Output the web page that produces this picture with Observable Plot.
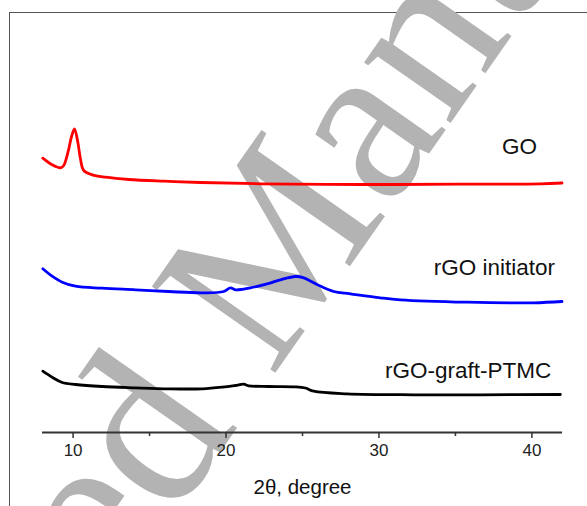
<!DOCTYPE html>
<html><head><meta charset="utf-8">
<script src="https://cdn.jsdelivr.net/npm/d3@7"></script>
<script src="https://cdn.jsdelivr.net/npm/@observablehq/plot@0.6"></script>
<style>body{margin:0;background:#fff;}</style>
</head><body><div id="chart"></div>
<script>
// ---- data (2θ in degrees, intensity in arbitrary offset units) ----
const seriesNames = ["GO", "rGO initiator", "rGO-graft-PTMC"];
const seriesColors = ["#ff0000", "#0000ff", "#000000"];

const goAngle = [8.02, 8.63, 9.18, 9.39, 9.55, 9.72, 9.90, 10.09, 10.31, 10.48, 10.70, 11.25, 12.12, 13.64, 15.93, 18.33, 22.25, 28.78, 35.32, 40.55, 41.97];
const goIntensity = [274.3, 267.7, 264.7, 267, 273.7, 283.7, 296, 303.7, 290.3, 273.7, 262, 257.7, 255.3, 253, 251.3, 250, 248.7, 248, 248.3, 248.7, 249.5];

const rgoAngle = [8.02, 8.63, 9.29, 10.16, 11.90, 14.08, 16.25, 18.44, 19.85, 20.29, 20.61, 21.59, 22.69, 23.56, 24.54, 25.08, 25.95, 27.04, 28.13, 30.09, 31.40, 35.76, 40.11, 41.97];
const rgoIntensity = [163.7, 156.3, 150.3, 146.3, 144.3, 142.7, 141, 139.7, 141, 144.7, 142.7, 144.7, 148.7, 152.7, 156, 154.7, 148, 141, 138.7, 134.7, 132.7, 130.3, 129.7, 131];

const ptmcAngle = [8.02, 8.63, 9.29, 10.16, 11.90, 14.08, 16.25, 18.44, 19.75, 20.61, 21.16, 21.48, 22.79, 24.54, 25.19, 25.73, 27.92, 32.27, 36.63, 41.86];
const ptmcIntensity = [61.3, 55.3, 50, 48, 46, 44.7, 43.7, 43.7, 45.3, 47, 48.3, 46.7, 46, 45.7, 44.5, 41.3, 38.7, 37.7, 37.7, 38];

const majorTicks = [10, 20, 30, 40];
const minorTicks = [15, 25, 35];
const xLabel = "2θ, degree";
const watermark = "Accepted Manuscript";

// ---- build table ----
const angles = [goAngle, rgoAngle, ptmcAngle];
const intensities = [goIntensity, rgoIntensity, ptmcIntensity];
const rows = seriesNames.flatMap((s, i) => angles[i].map((a, j) => ({series: s, angle: a, intensity: intensities[i][j]})));
const lastPoints = seriesNames.map((s, i) => ({series: s, angle: angles[i][angles[i].length - 1], intensity: intensities[i][intensities[i].length - 1]}));

// label offsets (style only)
const labelOffsets = [[-25, -29], [-7, -27], [-9, -17]];

const chart = Plot.plot({
  width: 587, height: 506,
  marginLeft: 42, marginRight: 25, marginTop: 12, marginBottom: 74,
  style: {fontFamily: "'Liberation Sans', Arial, sans-serif", background: "#fff", color: "#222"},
  x: {domain: [8, 42]},
  y: {domain: [0, 420], axis: null},
  color: {domain: seriesNames, range: seriesColors},
  marks: [
    Plot.frame({stroke: "#555", strokeWidth: 1, insetLeft: -33, insetTop: 0, insetRight: -40, insetBottom: -90}),
    Plot.text([watermark], {frameAnchor: "top-left", text: d => d, rotate: -55, fontSize: 230,
      fontFamily: "'Liberation Serif', 'DejaVu Serif', serif", fill: "#b3b3b3",
      textAnchor: "middle", lineAnchor: "bottom", dx: 264, dy: 316}),
    Plot.line(rows, {x: "angle", y: "intensity", z: "series", stroke: "series", strokeWidth: 2.8, curve: "catmull-rom"}),
    Plot.ruleY([0], {stroke: "#333", strokeWidth: 2}),
    Plot.axisX({ticks: majorTicks, tickSize: 6, tickPadding: 5, fontSize: 17, label: null, stroke: "#333", strokeWidth: 1.5, fill: "#222"}),
    Plot.axisX({ticks: minorTicks, tickSize: 4, tickFormat: () => "", label: null, stroke: "#333", strokeWidth: 1.5}),
    ...lastPoints.map((p, i) => Plot.text([p], {x: "angle", y: "intensity", text: "series",
      textAnchor: "end", lineAnchor: "bottom", fontSize: 22.5, fill: "#111",
      dx: labelOffsets[i][0], dy: labelOffsets[i][1]})),
    Plot.text([xLabel], {frameAnchor: "bottom", text: d => d, lineAnchor: "bottom", dy: 61, fontSize: 20.5, fill: "#111"})
  ]
});
document.getElementById("chart").appendChild(chart);
</script>
</body></html>
